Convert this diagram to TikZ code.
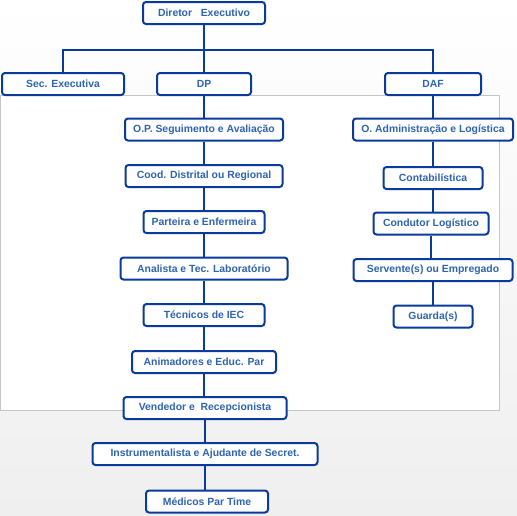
\documentclass[tikz,border=0pt]{standalone}
\usepackage{fontspec}
\setmainfont{Liberation Sans}
\usepackage{xcolor}
\usepackage{tikz}
\usetikzlibrary{positioning, arrows.meta}
\definecolor{linhaazul}{HTML}{0A3A9C}
\definecolor{textoazul}{HTML}{2E64B0}
\definecolor{fundocinza}{HTML}{EFEFEF}
\definecolor{bordacinza}{HTML}{C6C6C6}

\tikzset{
  caixa/.style={draw=linhaazul, line width=2pt, fill=white, rounded corners=3pt,
    minimum height=22pt, inner sep=0pt, text=textoazul,
    font=\fontsize{10.4}{12}\selectfont\bfseries},
  ligacao/.style={draw=linhaazul, line width=2pt}
}

\begin{document}
\begin{tikzpicture}[x=1pt, y=-1pt]
    % fundo
    \shade[top color=white, bottom color=fundocinza] (0,0) rectangle (517,515);
    \useasboundingbox (0,0) rectangle (517,515);
    \draw[bordacinza, fill=white, line width=1pt] (0,95.5) rectangle (499,410);

    % topo
    \node[caixa, minimum width=122pt] (diretor) at (204,13) {Diretor \ \ Executivo};
    \node[caixa, minimum width=122pt] (sec) at (63,84) {Sec. Executiva};
    \node[caixa, minimum width=94pt] (dp) at (204,84) {DP};
    \node[caixa, minimum width=96pt] (daf) at (433,84) {DAF};
    \coordinate (barra) at (204,50);

    % coluna DP
    \node[caixa, minimum width=158pt] (op) at (204,129.5) {O.P. Seguimento e Avaliação};
    \node[caixa, minimum width=157pt] (cood) at (204,176) {Cood. Distrital ou Regional};
    \node[caixa, minimum width=121pt] (parteira) at (204,222) {Parteira e Enfermeira};
    \node[caixa, minimum width=167pt] (analista) at (204,268.5) {Analista e Tec. Laboratório};
    \node[caixa, minimum width=121pt] (tecnicos) at (204,315) {Técnicos de IEC};
    \node[caixa, minimum width=144pt] (animadores) at (204,362) {Animadores e Educ. Par};
    \node[caixa, minimum width=163pt] (vendedor) at (205,408) {Vendedor e \ Recepcionista};
    \node[caixa, minimum width=225pt] (instrum) at (205,454) {Instrumentalista e Ajudante de Secret.};
    \node[caixa, minimum width=122pt] (medicos) at (207,501.5) {Médicos Par Time};

    % coluna DAF
    \node[caixa, minimum width=160pt] (oadm) at (433,129.5) {O. Administração e Logística};
    \node[caixa, minimum width=99pt] (contab) at (433,178) {Contabilística};
    \node[caixa, minimum width=115pt] (condutor) at (431,223.5) {Condutor Logístico};
    \node[caixa, minimum width=159pt] (servente) at (433,270) {Servente(s) ou Empregado};
    \node[caixa, minimum width=79pt] (guarda) at (433,316.5) {Guarda(s)};

    % ligacoes
    \draw[ligacao] (diretor.south) -- (diretor.south |- dp.north);
    \draw[ligacao] (sec.north) |- (barra) -| (daf.north);
    \foreach \de/\para in {dp/op, op/cood, cood/parteira, parteira/analista,
        analista/tecnicos, tecnicos/animadores, animadores/vendedor,
        vendedor/instrum, instrum/medicos, daf/oadm, oadm/contab,
        contab/condutor, condutor/servente, servente/guarda}
      \draw[ligacao] (\de.south) -- (\de.south |- \para.north);
\end{tikzpicture}
\end{document}
